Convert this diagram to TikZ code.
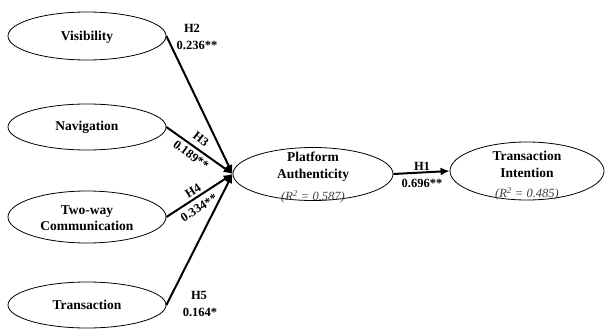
\documentclass[tikz,border=0pt]{standalone}
\usepackage{fontspec}
\setmainfont{Liberation Serif}
\usetikzlibrary{shapes.geometric,arrows.meta}
\begin{document}
\begin{tikzpicture}[x=1pt,y=-1pt,
  construct/.style={draw=black,line width=0.8pt,ellipse,inner sep=0pt},
  lbl/.style={font=\fontsize{13.5}{15}\selectfont\bfseries,align=center,inner sep=0pt},
  coef/.style={font=\fontsize{12.5}{13}\selectfont\bfseries,inner sep=0pt},
  rsq/.style={font=\fontsize{12.5}{13}\selectfont\itshape,text=black!75,inner sep=0pt},
  path/.style={line width=2pt,-{Latex[length=9pt,width=8pt]}}]
\useasboundingbox (0,0) rectangle (605,329);
\node[construct,minimum width=158pt,minimum height=48pt] (vis) at (87,36) {};
\node[construct,minimum width=158pt,minimum height=46pt] (nav) at (87,127) {};
\node[construct,minimum width=158pt,minimum height=52pt] (two) at (87,217) {};
\node[construct,minimum width=158pt,minimum height=46pt] (tra) at (87,305) {};
\node[construct,minimum width=160pt,minimum height=53pt] (pa) at (313,174) {};
\node[construct,minimum width=154pt,minimum height=58pt] (ti) at (527,171) {};
\node[lbl] (tvis) at (87,37) {Visibility};
\node[lbl] (tnav) at (87,127) {Navigation};
\node[lbl] (ttwo) at (87,218) {Two-way\\[1pt]Communication};
\node[lbl] (ttra) at (87,305) {Transaction};
\node[lbl] (tpa) at (313,167) {Platform\\[2pt]Authenticity};
\node[rsq] (rpa) at (313,197) {(\textit{R}\textsuperscript{2} = 0.587)};
\node[lbl] (tti) at (527,164) {Transaction\\[2pt]Intention};
\node[rsq] (rti) at (527,194) {(\textit{R}\textsuperscript{2} = 0.485)};
\draw[path] (vis.east) -- (pa.west);
\draw[path] (nav.east) -- (pa.west);
\draw[path] (two.east) -- (pa.west);
\draw[path] (tra.east) -- (pa.west);
\draw[path] (pa.east) -- (ti.west);
\node[coef] (h2) at (192,28) {H2};
\node[coef] (c2) at (197,45) {0.236**};
\node[coef,rotate=-37] (h3) at (201,139) {H3};
\node[coef,rotate=-37] (c3) at (191,155) {0.189**};
\node[coef,rotate=32] (h4) at (193,191) {H4};
\node[coef,rotate=32] (c4) at (199,208) {0.334**};
\node[coef] (h5) at (199,295) {H5};
\node[coef] (c5) at (200,312) {0.164*};
\node[coef] (h1) at (422,166) {H1};
\node[coef] (c1) at (422,183) {0.696**};
\end{tikzpicture}
\end{document}
